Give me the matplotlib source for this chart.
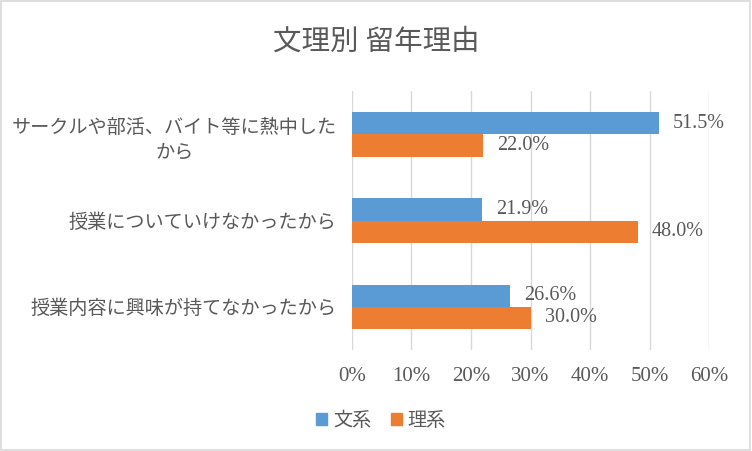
import matplotlib.pyplot as plt
import numpy as np
from matplotlib.patches import Rectangle, Patch

plt.rcParams['font.family'] = ['Liberation Serif', 'Noto Sans CJK JP', 'DejaVu Sans']

# data
categories = ["サークルや部活、バイト等に熱中した\nから",
              "授業についていけなかったから",
              "授業内容に興味が持てなかったから"]
bunkei = [51.5, 21.9, 26.6]
rikei = [22.0, 48.0, 30.0]
series_names = ["文系", "理系"]
title = "文理別 留年理由"

blue = "#5B9BD5"
orange = "#ED7D31"
txt = "#595959"

fig = plt.figure(figsize=(7.52, 4.51), dpi=100)
ax = fig.add_axes([0.468, 0.224, 0.475, 0.574])

y = np.arange(len(categories))
h = 0.258
b1 = ax.barh(y - h / 2, bunkei, height=h, color=blue, zorder=3)
b2 = ax.barh(y + h / 2, rikei, height=h, color=orange, zorder=3)

for bars, vals in ((b1, bunkei), (b2, rikei)):
    for bar, v in zip(bars, vals):
        ax.text(v + 2.4, bar.get_y() + bar.get_height() / 2, f"{v:.1f}%",
                va="center", ha="left", fontsize=14.5, color=txt)

ax.set_xlim(0, 60)
ax.set_ylim(2.5, -0.5)
ax.set_xticks(np.arange(0, 61, 10))
ax.set_xticklabels([f"{t}%" for t in range(0, 61, 10)], fontsize=15)
ax.set_yticks(y)
ax.set_yticklabels(categories, multialignment="center", linespacing=1.6, fontsize=13.8)
ax.tick_params(axis="both", length=0, labelcolor=txt)
ax.tick_params(axis="x", pad=12)
ax.tick_params(axis="y", pad=11)
ax.xaxis.grid(True, color="#D9D9D9", linewidth=1, zorder=0)
for s in ax.spines.values():
    s.set_visible(False)

fig.text(0.5, 1 - 42.5 / 451, title, ha="center", va="center", fontsize=20.5, color=txt)

handles = [Patch(color=blue), Patch(color=orange)]
fig.legend(handles, series_names, loc="center", bbox_to_anchor=(381 / 752, 1 - 421 / 451),
           ncol=2, frameon=False, fontsize=13.8, handlelength=0.6, handleheight=0.6,
           handletextpad=0.3, columnspacing=1.0, labelcolor=txt)

fig.patches.append(Rectangle((0.001, 0.002), 0.997, 0.996, transform=fig.transFigure,
                             fill=False, edgecolor="#D9D9D9", linewidth=1.2))

fig.savefig("out.png", dpi=100)
